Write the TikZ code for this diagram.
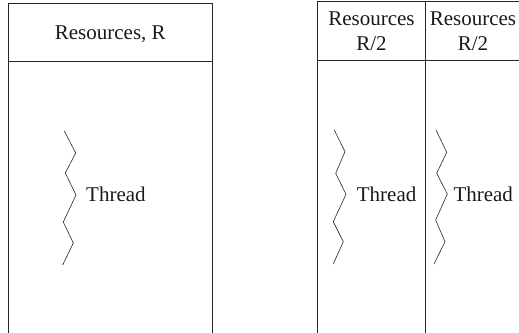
\documentclass[tikz,border=0pt]{standalone}
\usepackage{fontspec}
\setmainfont{Liberation Serif}
\begin{document}
\begin{tikzpicture}[x=1pt,y=-1pt,
  frame/.style={draw=black!85,line width=0.9pt},
  zig/.style={draw=black!85,line width=0.6pt,line join=miter},
  lbl/.style={font=\fontsize{21}{25}\selectfont,text=black!90,inner sep=0pt,align=center}]
\useasboundingbox (0,0) rectangle (519,332);
\clip (0,0) rectangle (519,332);
% left configuration
\draw[frame] (8.7,340) -- (8.7,3.3) -- (212,3.3) -- (212,340);
\draw[frame] (8.7,61.5) -- (212,61.5);
\node[lbl] (hR) at (110.3,34) {Resources, R};
\draw[zig] (64.3,131) -- (75.7,153) -- (65.3,173) -- (76,195) -- (63.3,222) -- (73.3,243) -- (62.7,265);
\node[lbl,anchor=west] (t1) at (86,194) {Thread};
% right configuration
\draw[frame] (317.7,340) -- (317.7,1.8) -- (525,1.8);
\draw[frame] (425.3,1.8) -- (425.3,340);
\draw[frame] (317.7,60) -- (525,60);
\node[lbl] (hA) at (371.5,31) {Resources\\R/2};
\node[lbl] (hB) at (473,31) {Resources\\R/2};
\draw[zig] (334.3,130) -- (345,151.7) -- (335.7,173.3) -- (346,194.3) -- (333.3,221.7) -- (343.3,241.7) -- (333.3,264);
\node[lbl,anchor=west] (t2) at (356.7,194) {Thread};
\draw[zig] (436,130) -- (446.7,152.3) -- (436.7,173.3) -- (447.3,194) -- (435.7,220) -- (445,241.7) -- (434,264);
\node[lbl,anchor=west] (t3) at (453.3,194) {Thread};
\end{tikzpicture}
\end{document}
